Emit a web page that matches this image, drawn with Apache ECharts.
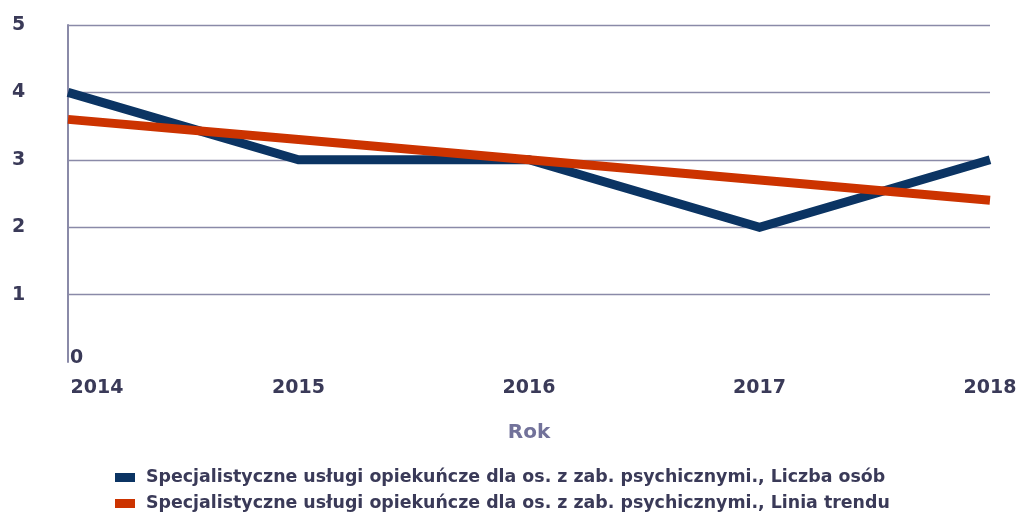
<!DOCTYPE html>
<html>
<head>
<meta charset="utf-8">
<script src="https://cdn.jsdelivr.net/npm/echarts@6/dist/echarts.min.js"></script>
<style>html,body{margin:0;padding:0;background:#fff;}#c{width:1020px;height:515px;}</style>
</head>
<body>
<div id="c"></div>
<script>
var years = ['2014', '2015', '2016', '2017', '2018'];
var liczbaOsob = [4, 3, 3, 2, 3];
var liniaTrendu = [3.6, 3.3, 3.0, 2.7, 2.4];
var seriesNames = [
  'Specjalistyczne usługi opiekuńcze dla os. z zab. psychicznymi., Liczba osób',
  'Specjalistyczne usługi opiekuńcze dla os. z zab. psychicznymi., Linia trendu'
];
var axisName = 'Rok';

var FONT = 'DejaVu Sans';
var TXT = '#3a3a58';
var GRID = '#8a8aa8';

function legendFor(name, top) {
  return {
    orient: 'horizontal',
    left: 110,
    top: top,
    itemWidth: 20,
    itemHeight: 9,
    icon: 'rect',
    textStyle: {fontFamily: FONT, fontWeight: 'bold', fontSize: 17.4, color: TXT, padding: [0, 0, 0, 6]},
    data: [name]
  };
}

var chart = echarts.init(document.getElementById('c'), null, {renderer: 'canvas'});
chart.setOption({
  animation: false,
  backgroundColor: '#fff',
  grid: {left: 68, right: 30, top: 25, bottom: 153},
  legend: [legendFor(seriesNames[0], 464), legendFor(seriesNames[1], 490)],
  xAxis: {
    type: 'category',
    data: years,
    boundaryGap: false,
    name: axisName,
    nameLocation: 'middle',
    nameGap: 61,
    nameTextStyle: {fontFamily: FONT, fontWeight: 'bold', fontSize: 20, color: '#72729a'},
    axisLine: {show: false},
    axisTick: {show: false},
    axisLabel: {
      margin: 17,
      fontFamily: FONT, fontWeight: 'bold', fontSize: 19, color: TXT,
      formatter: function (v, i) { return i === 0 ? '{f|' + v + '}' : v; },
      rich: {f: {fontFamily: FONT, fontWeight: 'bold', fontSize: 19, color: TXT, padding: [0, 0, 0, 58]}}
    },
    splitLine: {show: false}
  },
  yAxis: {
    type: 'value',
    min: 0, max: 5, interval: 1,
    axisLine: {show: true, lineStyle: {color: GRID, width: 2}},
    axisTick: {show: false},
    axisLabel: {
      align: 'left',
      margin: 56,
      fontFamily: FONT, fontWeight: 'bold', fontSize: 19, color: TXT,
      formatter: function (v) { return v === 0 ? '{z|0}' : String(v); },
      rich: {z: {fontFamily: FONT, fontWeight: 'bold', fontSize: 19, color: TXT, padding: [0, 0, 8, 58]}}
    },
    splitLine: {show: true, lineStyle: {color: ['rgba(0,0,0,0)', GRID, GRID, GRID, GRID, GRID], width: 1.3}}
  },
  series: [
    {
      name: seriesNames[0], type: 'line', data: liczbaOsob,
      showSymbol: false, symbol: 'none',
      itemStyle: {color: '#0b3463'},
      lineStyle: {color: '#0b3463', width: 9, join: 'miter', cap: 'butt'}
    },
    {
      name: seriesNames[1], type: 'line', data: liniaTrendu,
      showSymbol: false, symbol: 'none',
      itemStyle: {color: '#cc3300'},
      lineStyle: {color: '#cc3300', width: 9, cap: 'butt'}
    }
  ]
});
</script>
</body>
</html>
